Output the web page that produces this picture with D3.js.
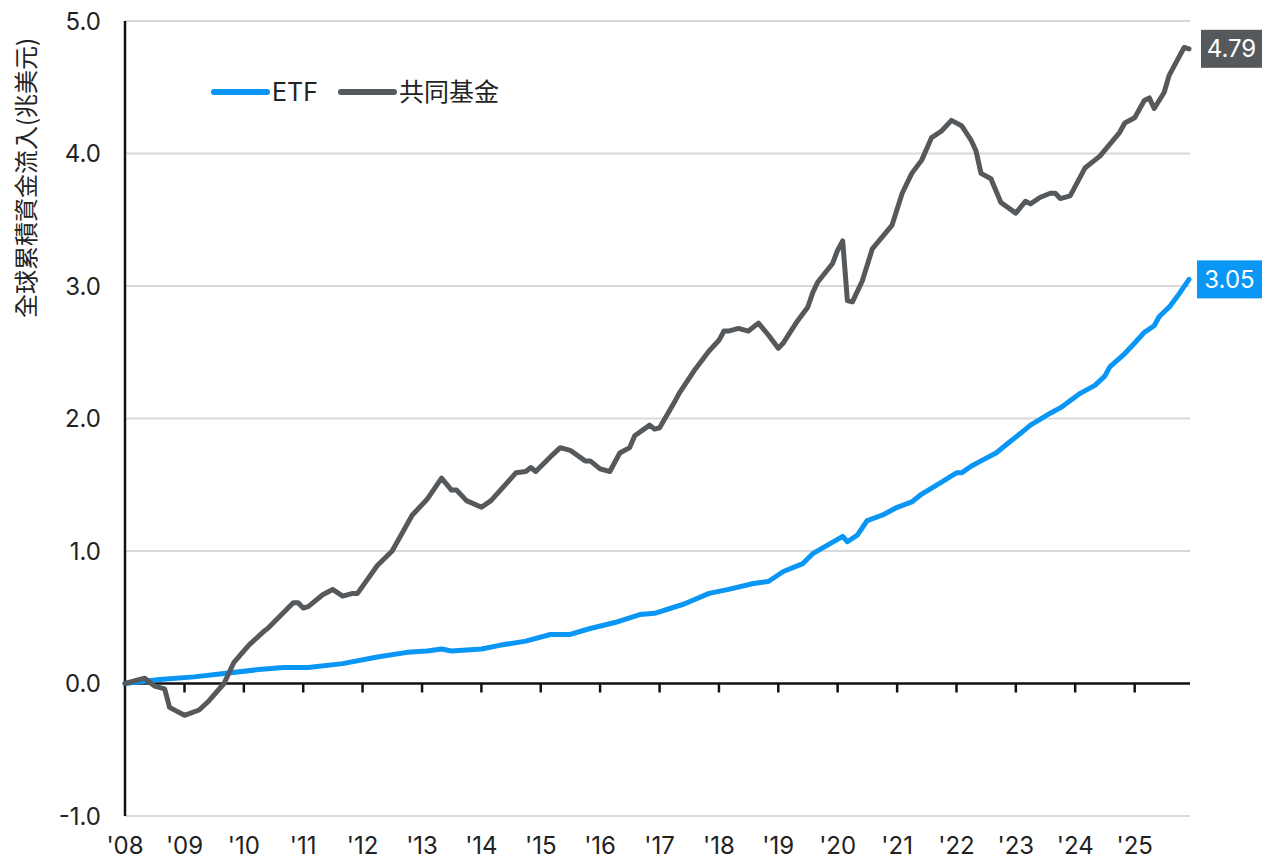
<!DOCTYPE html>
<html>
<head>
<meta charset="utf-8">
<script src="https://cdn.jsdelivr.net/npm/d3@7"></script>
<style>
  html, body { margin: 0; padding: 0; background: #fff; }
  svg { display: block; font-family: Inter, "Noto Sans CJK TC", sans-serif; }
</style>
</head>
<body>
<svg id="chart" width="1262" height="861"></svg>
<script>
// ---------- Data (cumulative global flows, trillion USD) ----------
const mfDates = ['2008-01','2008-05','2008-07','2008-09','2008-10','2009-01','2009-04','2009-06','2009-09','2009-11',
  '2010-02','2010-05','2010-06','2010-11','2010-12','2011-01','2011-02','2011-05','2011-07','2011-09','2011-11','2011-12',
  '2012-04','2012-07','2012-11','2013-02','2013-05','2013-07','2013-08','2013-10','2014-01','2014-03','2014-08','2014-10',
  '2014-11','2014-12','2015-03','2015-05','2015-07','2015-10','2015-11','2016-01','2016-03','2016-05','2016-07','2016-08',
  '2016-11','2016-12','2017-01','2017-04','2017-05','2017-08','2017-11','2018-01','2018-02','2018-03','2018-05','2018-07',
  '2018-09','2018-11','2019-01','2019-02','2019-05','2019-07','2019-08','2019-09','2019-12','2020-01','2020-02','2020-03',
  '2020-04','2020-06','2020-08','2020-12','2021-02','2021-04','2021-06','2021-08','2021-10','2021-12','2022-02','2022-04',
  '2022-05','2022-06','2022-08','2022-10','2023-01','2023-03','2023-04','2023-06','2023-08','2023-09','2023-10','2023-12',
  '2024-03','2024-06','2024-10','2024-11','2025-01','2025-03','2025-04','2025-05','2025-07','2025-08','2025-11','2025-12'];
const mfValues = [0.00,0.04,-0.02,-0.04,-0.18,-0.24,-0.20,-0.13,0.00,0.16,
  0.29,0.39,0.42,0.61,0.61,0.57,0.58,0.67,0.71,0.66,0.68,0.68,
  0.89,1.00,1.27,1.39,1.55,1.46,1.46,1.38,1.33,1.38,1.59,1.60,
  1.63,1.60,1.71,1.78,1.76,1.68,1.68,1.62,1.60,1.74,1.78,1.87,
  1.95,1.92,1.93,2.12,2.19,2.36,2.51,2.59,2.66,2.66,2.68,2.66,
  2.72,2.63,2.53,2.57,2.74,2.84,2.95,3.03,3.17,3.27,3.34,2.89,
  2.88,3.04,3.28,3.46,3.70,3.85,3.95,4.12,4.17,4.25,4.21,4.10,
  4.02,3.85,3.81,3.63,3.55,3.64,3.62,3.67,3.70,3.70,3.66,3.68,
  3.89,3.98,4.16,4.23,4.27,4.40,4.42,4.34,4.46,4.59,4.80,4.79];

const etfDates = ['2008-01','2008-08','2009-03','2009-09','2010-04','2010-09','2011-02','2011-09','2012-04','2012-10',
  '2013-02','2013-05','2013-07','2014-01','2014-05','2014-10','2015-03','2015-07','2015-11','2016-04','2016-09','2016-12',
  '2017-06','2017-11','2018-03','2018-08','2018-11','2019-02','2019-06','2019-08','2020-02','2020-03','2020-05','2020-07',
  '2020-10','2021-01','2021-04','2021-06','2021-10','2022-01','2022-02','2022-04','2022-06','2022-09','2022-12','2023-02',
  '2023-04','2023-08','2023-10','2024-02','2024-05','2024-07','2024-08','2024-11','2025-01','2025-03','2025-05','2025-06',
  '2025-08','2025-10','2025-12'];
const etfValues = [0.00,0.03,0.05,0.075,0.105,0.12,0.12,0.15,0.20,0.235,
  0.245,0.26,0.245,0.26,0.29,0.32,0.37,0.37,0.415,0.46,0.52,0.53,
  0.60,0.68,0.71,0.755,0.77,0.845,0.905,0.98,1.11,1.07,1.12,1.23,
  1.27,1.33,1.37,1.43,1.52,1.59,1.59,1.64,1.68,1.74,1.83,1.89,
  1.95,2.04,2.08,2.19,2.25,2.32,2.39,2.49,2.57,2.65,2.70,2.77,
  2.84,2.94,3.05];

const yTicks = [-1, 0, 1, 2, 3, 4, 5];
const xYears = d3.range(2008, 2026);
const seriesNames = ['ETF', '共同基金'];
const yTitle = '全球累積資金流入(兆美元)';

// ---------- Setup ----------
const svg = d3.select('#chart');
const parse = d3.timeParse('%Y-%m');
const margin = { left: 125, right: 1189, top: 21, bottom: 816 };

const COLOR_ETF = '#0a96f5';
const COLOR_MF = '#56595c';

const x = d3.scaleTime()
  .domain([parse('2008-01'), parse('2025-12')])
  .range([margin.left, margin.right]);

const y = d3.scaleLinear()
  .domain([-1, 5])
  .range([margin.bottom, margin.top]);

const mf = mfDates.map((d, i) => ({ date: parse(d), value: mfValues[i] }));
const etf = etfDates.map((d, i) => ({ date: parse(d), value: etfValues[i] }));

// plain hyphen for negatives, like the source
const fmt1 = v => d3.format('.1f')(v).replace('\u2212', '-');

// ---------- Gridlines ----------
svg.append('g')
  .selectAll('line')
  .data(yTicks.filter(v => v !== 0))
  .join('line')
  .attr('x1', margin.left)
  .attr('x2', margin.right + 1)
  .attr('y1', d => y(d))
  .attr('y2', d => y(d))
  .attr('stroke', '#d9d9d9')
  .attr('stroke-width', 2);

// ---------- Y tick labels ----------
svg.append('g')
  .selectAll('text')
  .data(yTicks)
  .join('text')
  .attr('x', 101)
  .attr('y', d => y(d))
  .attr('dy', '0.36em')
  .attr('text-anchor', 'end')
  .attr('font-size', 24)
  .attr('fill', '#222')
  .text(fmt1);

// Y title
svg.append('text')
  .attr('transform', `translate(35,178) rotate(-90)`)
  .attr('text-anchor', 'middle')
  .attr('font-size', 24)
  .attr('font-family', '"Noto Sans CJK TC", sans-serif')
  .attr('fill', '#222')
  .text(yTitle);

// ---------- X axis ----------
const xAxis = svg.append('g');
xAxis.append('line')
  .attr('x1', margin.left)
  .attr('x2', margin.right + 1)
  .attr('y1', y(0))
  .attr('y2', y(0))
  .attr('stroke', '#111')
  .attr('stroke-width', 2.5);

xAxis.selectAll('line.tick')
  .data(xYears.slice(1))
  .join('line')
  .attr('class', 'tick')
  .attr('x1', d => x(new Date(d, 0, 1)))
  .attr('x2', d => x(new Date(d, 0, 1)))
  .attr('y1', y(0))
  .attr('y2', y(0) + 9)
  .attr('stroke', '#111')
  .attr('stroke-width', 2.5);

xAxis.selectAll('text')
  .data(xYears)
  .join('text')
  .attr('x', d => x(new Date(d, 0, 1)))
  .attr('y', 854)
  .attr('text-anchor', 'middle')
  .attr('font-size', 24)
  .attr('fill', '#222')
  .text(d => "'" + String(d).slice(2));

// Y axis line
svg.append('line')
  .attr('x1', margin.left)
  .attr('x2', margin.left)
  .attr('y1', margin.top)
  .attr('y2', margin.bottom)
  .attr('stroke', '#111')
  .attr('stroke-width', 2.5);

// ---------- Lines ----------
const line = d3.line()
  .x(d => x(d.date))
  .y(d => y(d.value));

svg.append('path')
  .datum(etf)
  .attr('fill', 'none')
  .attr('stroke', COLOR_ETF)
  .attr('stroke-width', 5)
  .attr('stroke-linejoin', 'round')
  .attr('stroke-linecap', 'round')
  .attr('d', line);

svg.append('path')
  .datum(mf)
  .attr('fill', 'none')
  .attr('stroke', COLOR_MF)
  .attr('stroke-width', 5)
  .attr('stroke-linejoin', 'round')
  .attr('stroke-linecap', 'round')
  .attr('d', line);

// ---------- End labels ----------
const endLabels = [
  { value: mfValues[mfValues.length - 1], color: COLOR_MF, x0: 1201 },
  { value: etfValues[etfValues.length - 1], color: COLOR_ETF, x0: 1197 }
];
const endG = svg.append('g');
endLabels.forEach(l => {
  endG.append('rect')
    .attr('x', l.x0)
    .attr('y', y(l.value) - 19)
    .attr('width', 1262 - l.x0)
    .attr('height', 38)
    .attr('fill', l.color);
  endG.append('text')
    .attr('x', (l.x0 + 1262) / 2)
    .attr('y', y(l.value))
    .attr('dy', '0.36em')
    .attr('text-anchor', 'middle')
    .attr('font-size', 24)
    .attr('fill', '#fff')
    .text(d3.format('.2f')(l.value));
});

// ---------- Legend ----------
const legend = [
  { name: seriesNames[0], color: COLOR_ETF, x: 214 },
  { name: seriesNames[1], color: COLOR_MF, x: 341 }
];
const lg = svg.append('g');
legend.forEach(l => {
  lg.append('line')
    .attr('x1', l.x)
    .attr('x2', l.x + 53)
    .attr('y1', 92)
    .attr('y2', 92)
    .attr('stroke', l.color)
    .attr('stroke-width', 6)
    .attr('stroke-linecap', 'round');
  lg.append('text')
    .attr('x', l.x + 58)
    .attr('y', 92)
    .attr('dy', '0.36em')
    .attr('font-size', 25)
    .attr('fill', '#222')
    .text(l.name);
});
</script>
</body>
</html>
